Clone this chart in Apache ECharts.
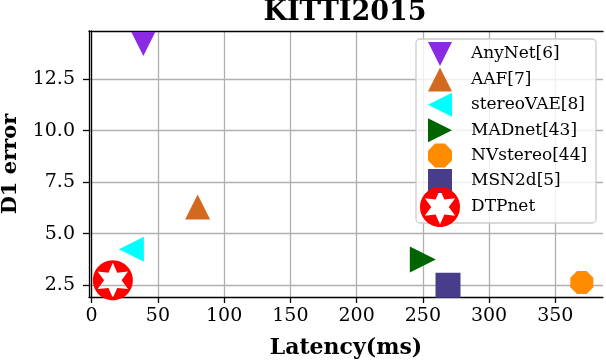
<!DOCTYPE html>
<html>
<head>
<meta charset="utf-8">
<script src="https://cdn.jsdelivr.net/npm/echarts@6/dist/echarts.min.js"></script>
<style>
  html, body { margin: 0; padding: 0; background: #fff; }
  #chart { width: 606px; height: 362px; }
</style>
</head>
<body>
<div id="chart"></div>
<script>
// data
const methods = ['AnyNet[6]', 'AAF[7]', 'stereoVAE[8]', 'MADnet[43]', 'NVstereo[44]', 'MSN2d[5]', 'DTPnet']
const latency = [39, 80, 30, 250, 370, 269, 16]
const d1Error = [14.2, 6.3, 4.25, 3.75, 2.63, 2.5, 2.74]
const xTicks = [0, 50, 100, 150, 200, 250, 300, 350]
const yTicks = [2.5, 5.0, 7.5, 10.0, 12.5]

const font = 'DejaVu Serif'

// triangles as paths so the legend shows the same direction
const triDown = 'path://M0 0L20 0L10 20Z'
const triUp = 'path://M10 0L20 20L0 20Z'
const triLeft = 'path://M0 10L20 0L20 20Z'
const triRight = 'path://M0 0L20 10L0 20Z'

// octagon with flat top, like matplotlib '8'
const octagon = (() => {
  let p = 'path://'
  for (let i = 0; i < 8; i++) {
    const a = (22.5 + i * 45) * Math.PI / 180
    p += (i ? 'L' : 'M') + (10 + 10 * Math.cos(a)).toFixed(2) + ' ' + (10 + 10 * Math.sin(a)).toFixed(2)
  }
  return p + 'Z'
})()

// red disc with a white six point star cut out
const dtpSymbol = (() => {
  let p = 'path://'
  for (let i = 0; i < 60; i++) {
    const a = i / 60 * 2 * Math.PI
    p += (i ? 'L' : 'M') + (20 + 20 * Math.cos(a)).toFixed(2) + ' ' + (20 + 20 * Math.sin(a)).toFixed(2)
  }
  p += 'Z'
  for (let i = 0; i < 12; i++) {
    const a = -Math.PI / 2 - i * Math.PI / 6
    const r = i % 2 ? 8.75 : 17.5
    p += (i ? 'L' : 'M') + (20 + r * Math.cos(a)).toFixed(2) + ' ' + (20 + r * Math.sin(a)).toFixed(2)
  }
  return p + 'Z'
})()

const styles = [
  { color: '#8a2be2', symbol: triDown, size: 24 },
  { color: '#d2691e', symbol: triUp, size: 25 },
  { color: '#00ffff', symbol: triLeft, size: 25 },
  { color: '#006400', symbol: triRight, size: 26 },
  { color: '#ff8c00', symbol: octagon, size: 23 },
  { color: '#483d8b', symbol: 'rect', size: 25 },
  { color: '#ff0000', symbol: dtpSymbol, size: 40 }
]

const series = methods.map((name, i) => ({
  name: name,
  type: 'scatter',
  data: [[latency[i], d1Error[i]]],
  symbol: styles[i].symbol,
  symbolSize: styles[i].size,
  itemStyle: { color: styles[i].color, opacity: 1 },
  emphasis: { disabled: true },
  z: 3
}))

const legendItem = (name, i) => ({ name: name, icon: styles[i].symbol })

const frameAxis = {
  axisLine: { show: true, lineStyle: { color: '#000', width: 1.3 } },
  axisTick: { show: false },
  axisLabel: { show: false },
  splitLine: { show: false }
}

const chart = echarts.init(document.getElementById('chart'))
chart.setOption({
  animation: false,
  backgroundColor: '#fff',
  title: {
    text: 'KITTI2015',
    left: 345,
    textAlign: 'center',
    top: -1,
    padding: 0,
    textStyle: { fontFamily: font, fontWeight: 'bold', fontSize: 27, color: '#000' }
  },
  grid: { left: 89, right: 3, top: 31, bottom: 65, containLabel: false, outerBoundsMode: 'none' },
  xAxis: [
    {
      type: 'value',
      min: -2,
      max: 386,
      name: 'Latency(ms)',
      nameLocation: 'middle',
      nameGap: 40,
      nameTextStyle: { fontFamily: font, fontWeight: 'bold', fontSize: 22, color: '#000' },
      axisLine: { show: true, onZero: false, lineStyle: { color: '#000', width: 1.3 } },
      axisTick: { show: true, length: 6, lineStyle: { color: '#000', width: 1.3 }, customValues: xTicks },
      axisLabel: { fontFamily: font, fontSize: 19, color: '#000', margin: 10, customValues: xTicks },
      splitLine: { show: true, lineStyle: { color: '#b0b0b0', width: 1.3 } }
    },
    Object.assign({ type: 'value', min: -2, max: 386, position: 'top' }, frameAxis)
  ],
  yAxis: [
    {
      type: 'value',
      min: 1.93,
      max: 14.83,
      name: 'D1 error',
      nameLocation: 'middle',
      nameGap: 68,
      nameTextStyle: { fontFamily: font, fontWeight: 'bold', fontSize: 21, color: '#000' },
      axisLine: { show: true, onZero: false, lineStyle: { color: '#000', width: 1.3 } },
      axisTick: { show: true, length: 6, lineStyle: { color: '#000', width: 1.3 }, customValues: yTicks },
      axisLabel: {
        fontFamily: font, fontSize: 19, color: '#000', margin: 14, customValues: yTicks,
        formatter: v => v.toFixed(1)
      },
      splitLine: { show: true, lineStyle: { color: '#b0b0b0', width: 1.3 } }
    },
    Object.assign({ type: 'value', min: 1.93, max: 14.83, position: 'right' }, frameAxis)
  ],
  legend: [
    {
      data: methods.slice(0, 6).map(legendItem),
      orient: 'vertical',
      left: 428,
      top: 42,
      padding: 0,
      itemWidth: 24,
      itemHeight: 24,
      itemGap: 1.4,
      selectedMode: false,
      textStyle: { fontFamily: font, fontSize: 17, color: '#000', padding: [0, 0, 0, 14] },
      z: 10
    },
    {
      data: [legendItem('DTPnet', 6)],
      orient: 'vertical',
      left: 420,
      top: 187,
      padding: 0,
      itemWidth: 40,
      itemHeight: 40,
      selectedMode: false,
      textStyle: { fontFamily: font, fontSize: 17, color: '#000', padding: [0, 0, 0, 6] },
      z: 10
    }
  ],
  graphic: [
    {
      type: 'rect',
      z: 8,
      shape: { x: 416, y: 39, width: 180, height: 184, r: 4 },
      style: { fill: 'rgba(255,255,255,0.8)', stroke: '#cccccc', lineWidth: 1.3 }
    }
  ],
  series: series
})
</script>
</body>
</html>
